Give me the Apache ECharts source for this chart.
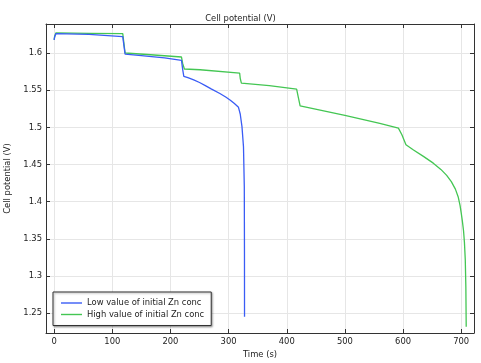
<!DOCTYPE html>
<html>
<head>
<meta charset="utf-8">
<script src="https://cdn.jsdelivr.net/npm/echarts@6/dist/echarts.min.js"></script>
<style>html,body{margin:0;padding:0;background:#fff;}#c{width:481px;height:363px;}</style>
</head>
<body>
<div id="c"></div>
<script>
const titleText = 'Cell potential (V)';
const xName = 'Time (s)';
const yName = 'Cell potential (V)';
const seriesNames = ['Low value of initial Zn conc', 'High value of initial Zn conc'];

const lowT = [0, 1, 3, 60, 118, 120, 122, 150, 190, 219, 221, 223, 230, 240, 250, 260, 270, 285, 295, 303, 310, 317, 320, 323, 325.6, 327, 327.3, 327.4];
const lowV = [1.6175, 1.622, 1.626, 1.625, 1.622, 1.610, 1.5985, 1.5965, 1.5935, 1.590, 1.578, 1.5685, 1.5668, 1.5638, 1.5603, 1.5562, 1.5518, 1.5455, 1.5408, 1.5365, 1.532, 1.527, 1.518, 1.501, 1.474, 1.42, 1.33, 1.2455];

const highT = [0, 1, 3, 60, 118, 120, 122, 160, 219, 221, 224, 251, 319, 320, 322, 370, 417, 420, 423, 500, 560, 592, 598, 605, 618, 635, 652, 665, 675, 683, 690, 695, 698, 700, 702, 704, 705.5, 707, 708, 708.6];
const highV = [1.618, 1.623, 1.627, 1.6265, 1.626, 1.613, 1.600, 1.598, 1.5946, 1.586, 1.5785, 1.5775, 1.573, 1.566, 1.5596, 1.556, 1.5515, 1.540, 1.529, 1.516, 1.5055, 1.499, 1.49, 1.4766, 1.4695, 1.461, 1.4519, 1.4435, 1.4355, 1.427, 1.417, 1.406, 1.395, 1.385, 1.374, 1.361, 1.346, 1.322, 1.285, 1.232];

const zip = (a, b) => a.map((v, i) => [v, b[i]]);
const FONT = 'DejaVu Sans';
const FS = 8.4;
const xMin = -14, xMax = 722, yMin = 1.2235, yMax = 1.639;
const frame = {show: true, onZero: false, lineStyle: {color: '#333', width: 1}};

const chart = echarts.init(document.getElementById('c'), null, {renderer: 'canvas'});
chart.setOption({
  animation: false,
  backgroundColor: '#fff',
  title: {text: titleText, left: 'center', top: 10, textStyle: {fontFamily: FONT, fontSize: FS, fontWeight: 'normal', color: '#222'}},
  grid: {left: 46, right: 7, top: 24, bottom: 30, containLabel: false, outerBoundsMode: 'none'},
  xAxis: [{
    type: 'value', min: xMin, max: xMax, splitNumber: 8,
    name: xName, nameLocation: 'middle', nameGap: 16,
    nameTextStyle: {fontFamily: FONT, fontSize: FS, color: '#222'},
    axisLine: frame,
    axisTick: {show: true, inside: true, length: 4, lineStyle: {color: '#333'}},
    axisLabel: {fontFamily: FONT, fontSize: FS, color: '#222', margin: 5, showMinLabel: false, showMaxLabel: false,
      formatter: v => (Math.abs(v % 100) < 1e-6 ? String(v) : '')},
    splitLine: {show: true, lineStyle: {color: '#e6e6e6', width: 1}}
  }, {
    type: 'value', min: xMin, max: xMax, splitNumber: 8, position: 'top',
    axisLine: frame,
    axisTick: {show: true, inside: true, length: 4, lineStyle: {color: '#333'}},
    axisLabel: {show: false}, splitLine: {show: false}
  }],
  yAxis: [{
    type: 'value', min: yMin, max: yMax, splitNumber: 8,
    name: yName, nameLocation: 'middle', nameGap: 34,
    nameTextStyle: {fontFamily: FONT, fontSize: FS, color: '#222'},
    axisLine: frame,
    axisTick: {show: true, inside: true, length: 4, lineStyle: {color: '#333'}},
    axisLabel: {fontFamily: FONT, fontSize: FS, color: '#222', margin: 4, showMinLabel: false, showMaxLabel: false,
      formatter: v => String(parseFloat(v.toFixed(3)))},
    splitLine: {show: true, lineStyle: {color: '#e6e6e6', width: 1}}
  }, {
    type: 'value', min: yMin, max: yMax, splitNumber: 8, position: 'right',
    axisLine: frame,
    axisTick: {show: true, inside: true, length: 4, lineStyle: {color: '#333'}},
    axisLabel: {show: false}, splitLine: {show: false}
  }],
  legend: {
    orient: 'vertical', left: 53, top: 292,
    padding: [6, 7, 6, 8], itemGap: 1.5, itemWidth: 21, itemHeight: 1.4, icon: 'rect',
    backgroundColor: '#fff', borderColor: '#333', borderWidth: 1, borderRadius: 0,
    shadowColor: 'rgba(0,0,0,0.35)', shadowBlur: 2, shadowOffsetX: 1, shadowOffsetY: 1,
    textStyle: {fontFamily: FONT, fontSize: FS, color: '#222', lineHeight: 10},
    data: seriesNames
  },
  series: [{
    name: seriesNames[0], type: 'line', data: zip(lowT, lowV), symbol: 'none', smooth: false,
    lineStyle: {color: '#3a5cf5', width: 1.3}, itemStyle: {color: '#3a5cf5'}, z: 3
  }, {
    name: seriesNames[1], type: 'line', data: zip(highT, highV), symbol: 'none', smooth: false,
    lineStyle: {color: '#44c653', width: 1.3}, itemStyle: {color: '#44c653'}, z: 2
  }]
});
</script>
</body>
</html>
